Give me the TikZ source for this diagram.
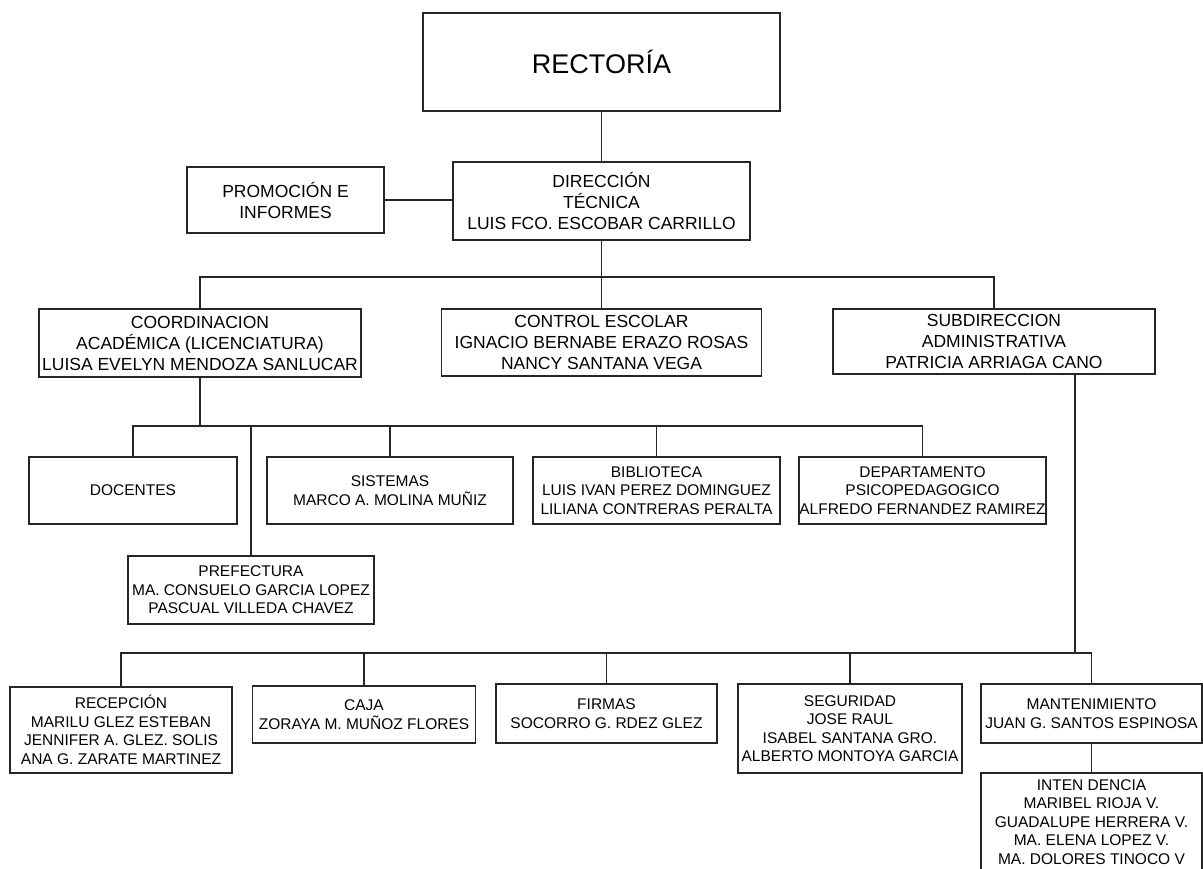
\documentclass[tikz,border=0pt]{standalone}
\usepackage{fontspec}
\setmainfont{Liberation Sans}

\begin{document}
\begin{tikzpicture}[x=1pt,y=-1pt,
  cuadro/.style={draw=black!85,line width=1.6pt,inner sep=0pt,align=center},
  alto/.style={cuadro,font=\fontsize{17.5}{21}\selectfont},
  bajo/.style={cuadro,font=\fontsize{15.5}{18.5}\selectfont},
  enlace/.style={draw=black!85,line width=1.6pt}]
\useasboundingbox (0,0) rectangle (1203,869);
% direccion
\node[cuadro,minimum width=357pt,minimum height=98pt,font=\fontsize{27}{30}\selectfont] (rect) at (601.5,62) {RECTORÍA};
\node[alto,minimum width=297pt,minimum height=78pt] (dir) at (601.5,201) {DIRECCIÓN\\TÉCNICA\\LUIS FCO. ESCOBAR CARRILLO};
\node[alto,minimum width=197pt,minimum height=66pt] (prom) at (285.5,200) {PROMOCIÓN E\\INFORMES};
% coordinaciones
\node[alto,minimum width=322pt,minimum height=68pt] (coord) at (200,343) {COORDINACION\\ACADÉMICA (LICENCIATURA)\\LUISA EVELYN MENDOZA SANLUCAR};
\node[alto,minimum width=320pt,minimum height=67pt] (ctrl) at (601.5,342.5) {CONTROL ESCOLAR\\IGNACIO BERNABE ERAZO ROSAS\\NANCY SANTANA VEGA};
\node[alto,minimum width=322pt,minimum height=65pt] (subd) at (994,341.5) {SUBDIRECCION\\ADMINISTRATIVA\\PATRICIA ARRIAGA CANO};
% area academica
\node[bajo,minimum width=208pt,minimum height=67pt] (doc) at (133,490.5) {DOCENTES};
\node[bajo,minimum width=246pt,minimum height=67pt] (sist) at (390,490.5) {SISTEMAS\\MARCO A. MOLINA MUÑIZ};
\node[bajo,minimum width=247pt,minimum height=67pt] (bibl) at (656.5,490.5) {BIBLIOTECA\\LUIS IVAN PEREZ DOMINGUEZ\\LILIANA CONTRERAS PERALTA};
\node[bajo,minimum width=247pt,minimum height=67pt] (depto) at (922.5,490.5) {DEPARTAMENTO\\PSICOPEDAGOGICO\\ALFREDO FERNANDEZ RAMIREZ};
\node[bajo,minimum width=246pt,minimum height=68pt] (pref) at (251,590) {PREFECTURA\\MA. CONSUELO GARCIA LOPEZ\\PASCUAL VILLEDA CHAVEZ};
% area administrativa
\node[bajo,minimum width=222pt,minimum height=86pt] (recep) at (121,730) {RECEPCIÓN\\MARILU GLEZ ESTEBAN\\JENNIFER A. GLEZ. SOLIS\\ANA G. ZARATE MARTINEZ};
\node[bajo,minimum width=223pt,minimum height=57pt] (caja) at (364,714.5) {CAJA\\ZORAYA M. MUÑOZ FLORES};
\node[bajo,minimum width=221pt,minimum height=59pt] (firm) at (606.5,713.5) {FIRMAS\\SOCORRO G. RDEZ GLEZ};
\node[bajo,minimum width=224pt,minimum height=89pt] (seg) at (850,728.5) {SEGURIDAD\\JOSE RAUL\\ISABEL SANTANA GRO.\\ALBERTO MONTOYA GARCIA};
\node[bajo,minimum width=221pt,minimum height=59pt] (mant) at (1091.5,713.5) {MANTENIMIENTO\\JUAN G. SANTOS ESPINOSA};
\node[bajo,minimum width=221pt,minimum height=98pt] (inten) at (1091.5,822) {INTEN DENCIA\\MARIBEL RIOJA V.\\GUADALUPE HERRERA V.\\MA. ELENA LOPEZ V.\\MA. DOLORES TINOCO V};
% lineas
\coordinate (busA) at (601.5,277);
\coordinate (busB) at (200,426);
\coordinate (busC) at (1075,653);
\draw[enlace] (rect) -- (dir);
\draw[enlace] (prom.east) -- (prom.east -| dir.west);
\draw[enlace] (dir.south) -- (busA);
\draw[enlace] (coord.north) |- (busA) -| (subd.north);
\draw[enlace] (busA) -- (ctrl.north);
\draw[enlace] (coord.south) -- (busB);
\draw[enlace] (doc.north) -- (doc.north |- busB) -- (depto.north |- busB) -- (depto.north);
\draw[enlace] (pref.north) -- (pref.north |- busB);
\draw[enlace] (sist.north) -- (sist.north |- busB);
\draw[enlace] (bibl.north) -- (bibl.north |- busB);
\draw[enlace] (subd.south -| busC) -- (busC);
\draw[enlace] (recep.north) -- (recep.north |- busC) -- (mant.north |- busC) -- (mant.north);
\draw[enlace] (caja.north) -- (caja.north |- busC);
\draw[enlace] (firm.north) -- (firm.north |- busC);
\draw[enlace] (seg.north) -- (seg.north |- busC);
\draw[enlace] (mant) -- (inten);
\end{tikzpicture}
\end{document}
